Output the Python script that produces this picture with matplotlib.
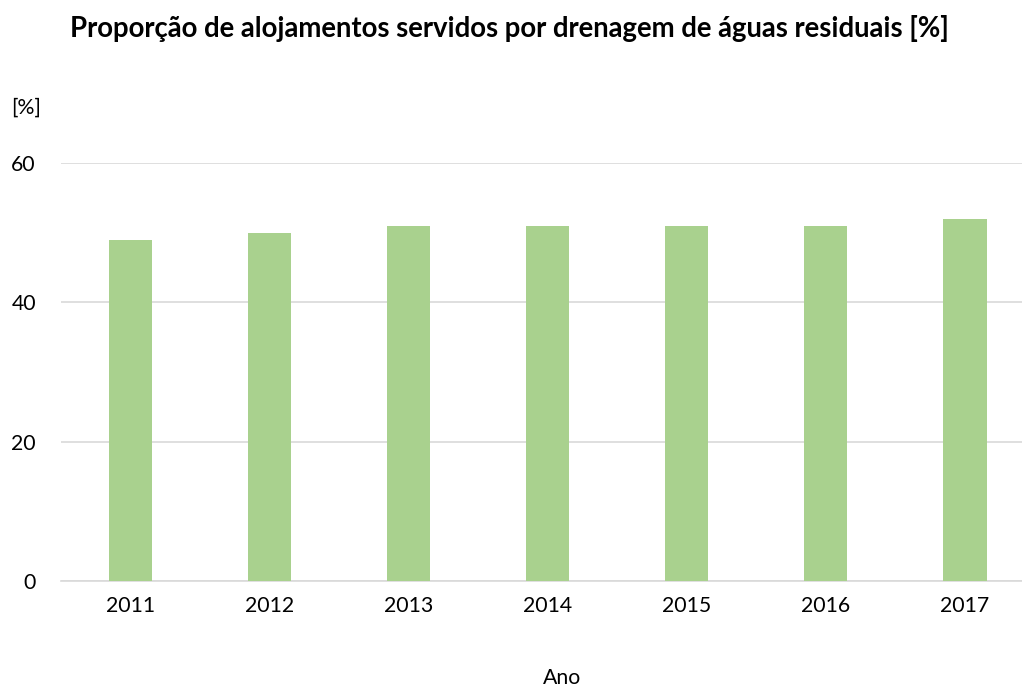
import matplotlib
matplotlib.use('Agg')
import matplotlib.pyplot as plt

# data
anos = ['2011', '2012', '2013', '2014', '2015', '2016', '2017']
proporcao = [49, 50, 51, 51, 51, 51, 52]

plt.rcParams['font.family'] = ['Lato', 'DejaVu Sans']

W, H = 1022, 689
fig = plt.figure(figsize=(W / 100, H / 100), dpi=100)
ax = fig.add_axes([61 / W, 108.3 / H, (1034.5 - 61) / W, 417.4 / H])

x = range(len(anos))
ax.bar(x, proporcao, width=0.31, color='#A9D18E', zorder=3)

ax.set_xlim(-0.5, len(anos) - 0.5)
ax.set_ylim(0, 60)
ax.set_yticks([0, 20, 40, 60])
ax.set_xticks(list(x))
ax.set_xticklabels(anos)

ax.grid(axis='y', color='#D9D9D9', linewidth=1.2, zorder=0)
for s in ['top', 'right', 'left']:
    ax.spines[s].set_visible(False)
ax.spines['bottom'].set_color('#D9D9D9')
ax.spines['bottom'].set_linewidth(1.2)
ax.tick_params(axis='both', length=0, labelsize=15.3, colors='black')
ax.tick_params(axis='y', pad=18)
ax.tick_params(axis='x', pad=11)

fig.text(509 / W, 1 - 29 / H, 'Proporção de alojamentos servidos por drenagem de águas residuais [%]',
         ha='center', va='center', fontsize=19.8, fontweight='bold')
fig.text(26 / W, 1 - 108 / H, '[%]', ha='center', va='center', fontsize=15.3)
fig.text(562 / W, 1 - 678 / H, 'Ano', ha='center', va='center', fontsize=15.3)

fig.savefig('out.png', dpi=100)
